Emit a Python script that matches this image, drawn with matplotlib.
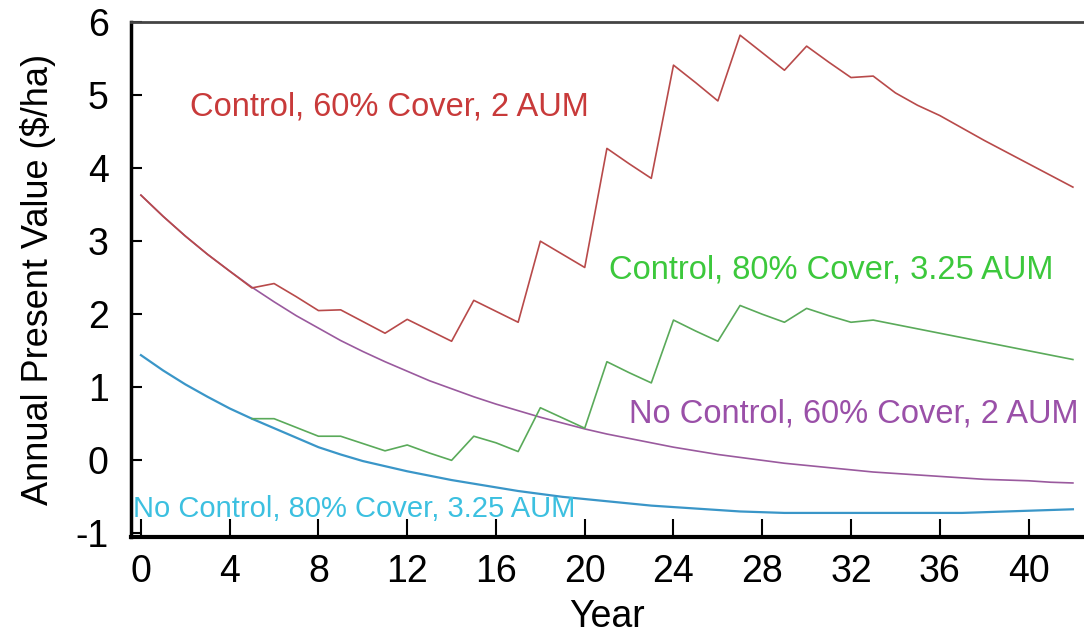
import numpy as np
import matplotlib.pyplot as plt

plt.rcParams['font.family'] = ['Liberation Sans', 'DejaVu Sans']
plt.rcParams['axes.unicode_minus'] = False

# years on the x axis
years = list(range(0, 43))
years_ctrl80 = list(range(5, 43))

# Control, 60% Cover, 2 AUM
ctrl60 = [3.63, 3.34, 3.07, 2.82, 2.59, 2.36, 2.42, 2.24, 2.05, 2.06,
          1.90, 1.74, 1.93, 1.78, 1.63, 2.19, 2.04, 1.89, 3.00, 2.82,
          2.64, 4.27, 4.06, 3.86, 5.41, 5.17, 4.92, 5.82, 5.58, 5.34,
          5.67, 5.45, 5.24, 5.26, 5.03, 4.86, 4.72, 4.55, 4.38, 4.22,
          4.06, 3.90, 3.74]

# No Control, 60% Cover, 2 AUM
noctrl60 = [3.63, 3.34, 3.07, 2.82, 2.59, 2.37, 2.17, 1.98, 1.81, 1.64,
            1.49, 1.35, 1.22, 1.09, 0.98, 0.87, 0.77, 0.68, 0.59, 0.51,
            0.43, 0.36, 0.30, 0.24, 0.18, 0.13, 0.08, 0.04, 0.00, -0.04,
            -0.07, -0.10, -0.13, -0.16, -0.18, -0.20, -0.22, -0.24, -0.26, -0.27,
            -0.28, -0.30, -0.31]

# Control, 80% Cover, 3.25 AUM (starts at year 5)
ctrl80 = [0.57, 0.57, 0.45, 0.33, 0.33, 0.23, 0.13, 0.21, 0.10, 0.00,
          0.33, 0.24, 0.12, 0.72, 0.58, 0.44, 1.35, 1.20, 1.06, 1.92,
          1.77, 1.63, 2.12, 2.00, 1.89, 2.08, 1.98, 1.89, 1.92, 1.86,
          1.80, 1.74, 1.68, 1.62, 1.56, 1.50, 1.44, 1.38]

# No Control, 80% Cover, 3.25 AUM
noctrl80 = [1.44, 1.23, 1.04, 0.87, 0.71, 0.57, 0.44, 0.31, 0.18, 0.08,
            -0.01, -0.08, -0.15, -0.21, -0.27, -0.32, -0.37, -0.42, -0.46, -0.50,
            -0.53, -0.56, -0.59, -0.62, -0.64, -0.66, -0.68, -0.70, -0.71, -0.72,
            -0.72, -0.72, -0.72, -0.72, -0.72, -0.72, -0.72, -0.72, -0.71, -0.70,
            -0.69, -0.68, -0.67]

xticks = list(range(0, 41, 4))
yticks = list(range(-1, 7))

fig = plt.figure(figsize=(10.84, 6.44), dpi=100)
ax = fig.add_axes([0.1208, 0.1661, 0.8792, 0.7997])

ax.plot(years, noctrl80, color="#3a96c8", lw=1.6)
ax.plot(years, noctrl60, color="#9a5a9e", lw=1.2)
ax.plot(years_ctrl80, ctrl80, color="#5aaa5a", lw=1.2)
ax.plot(years, ctrl60, color="#b84a4a", lw=1.2)

ax.text(2.2, 4.84, "Control, 60% Cover, 2 AUM", color="#c83a3a", fontsize=23.5, va="center")
ax.text(21.1, 2.61, "Control, 80% Cover, 3.25 AUM", color="#3cc83c", fontsize=23.5, va="center")
ax.text(22.0, 0.64, "No Control, 60% Cover, 2 AUM", color="#9a50a8", fontsize=23.5, va="center")
ax.text(-0.36, -0.66, "No Control, 80% Cover, 3.25 AUM", color="#3cc0e0", fontsize=21, va="center")

ax.set_xlim(-0.45, 42.5)
ax.set_ylim(-1.05, 5.94)
ax.set_xticks(xticks)
ax.set_yticks(yticks)
ax.tick_params(direction="in", width=1.5, labelsize=27, colors="black")
ax.tick_params(axis="x", length=13, pad=12)
ax.tick_params(axis="y", length=8, pad=16)

ax.spines["right"].set_visible(False)
ax.spines["top"].set_color("#444444")
ax.spines["top"].set_linewidth(2)
ax.spines["left"].set_linewidth(2.5)
ax.spines["bottom"].set_linewidth(3)

ax.set_xlabel("Year", fontsize=27, labelpad=7)
ax.set_ylabel("Annual Present Value ($/ha)", fontsize=26, labelpad=14)

fig.savefig("out.png", dpi=100)
